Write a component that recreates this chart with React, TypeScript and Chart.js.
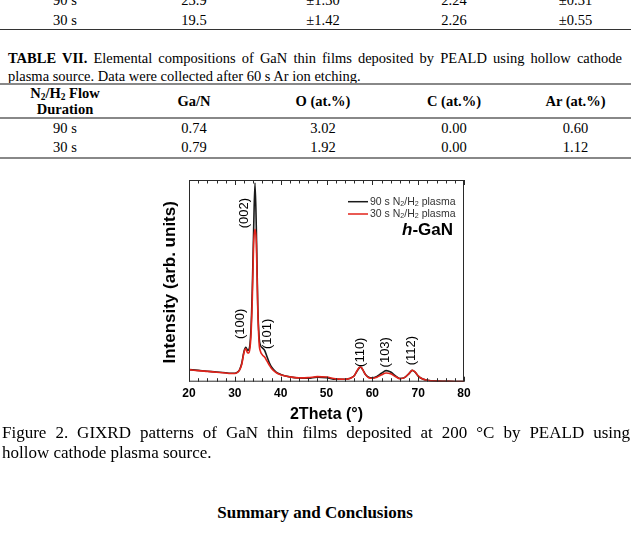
import React, { useEffect, useRef } from "react";
import { Chart, registerables } from "chart.js";
Chart.register(...registerables);

// ---------- data ----------
const table6Rows = [
  ["90 s", "23.9", "±1.30", "2.24", "±0.31"],
  ["30 s", "19.5", "±1.42", "2.26", "±0.55"],
];
const table7Headers = ["Ga/N", "O (at.%)", "C (at.%)", "Ar (at.%)"];
const table7Rows = [
  ["90 s", "0.74", "3.02", "0.00", "0.60"],
  ["30 s", "0.79", "1.92", "0.00", "1.12"],
];

const twoTheta = [20, 22, 24, 26, 28, 29, 30, 30.5, 31, 31.5, 32, 32.4, 32.8, 33.1, 33.5, 33.8, 34.1, 34.4, 34.7, 35.0, 35.3, 35.6, 36.0, 36.5, 37.0, 37.5, 38, 39, 40, 42, 44, 46, 48, 50, 52, 54, 55, 56, 56.6, 57.2, 57.5, 57.9, 58.5, 59.2, 60, 61, 62, 63, 64, 65, 66, 67, 68, 68.7, 69.3, 70, 71, 72, 74, 76, 78, 80];
const intensity90s = [6.0, 5.6, 5.2, 4.8, 4.4, 4.2, 4.2, 4.6, 5.8, 9, 15, 17, 15.5, 16, 25, 45, 75, 98.5, 75, 38, 22, 18, 16.8, 15.5, 12.5, 9.5, 7.3, 4.8, 3.6, 2.4, 1.8, 1.7, 2.2, 2.0, 1.2, 1.2, 1.6, 2.8, 5.0, 7.0, 7.2, 6.0, 3.6, 2.2, 1.9, 2.6, 4.2, 5.5, 4.8, 3.0, 1.6, 2.0, 4.0, 5.6, 4.8, 2.8, 1.3, 0.7, 0.3, 0.2, 0.1, 0.1];
const intensity30s = [6.0, 5.5, 5.1, 4.7, 4.3, 4.1, 4.1, 4.5, 5.6, 8.5, 14.5, 16.3, 14.2, 14.5, 22, 40, 68, 75.5, 68, 36, 19, 15, 13.3, 12.2, 10.3, 8.3, 6.6, 4.5, 3.4, 2.4, 1.9, 2.0, 2.5, 2.3, 1.4, 1.2, 1.6, 2.8, 5.2, 7.2, 7.3, 6.0, 3.5, 2.0, 1.7, 2.2, 3.4, 4.3, 3.9, 2.6, 1.5, 2.0, 4.0, 5.7, 4.9, 2.9, 1.3, 0.7, 0.3, 0.2, 0.1, 0.1];

const seriesNames = ["90 s", "30 s"];
const peakLabels = ["(100)", "(002)", "(101)", "(110)", "(103)", "(112)"];
const peakLabelX = [31.3, 32.0, 37.1, 57.45, 62.8, 68.6];
const peakLabelY = [28.7, 83.6, 23.7, 14.6, 14.6, 15.4];
const xTickValues = [20, 30, 40, 50, 60, 70, 80];

// ---------- styles ----------
const SANS = "'Liberation Sans', Arial, sans-serif";
const SERIF = "'Liberation Serif', 'Times New Roman', serif";
const colBounds = [0, 130, 258, 388, 520, 631];

function drawRich(ctx: CanvasRenderingContext2D, x: number, y: number, parts: [string, boolean][], size: number, weight = "normal") {
  let cx = x;
  for (const [t, sub] of parts) {
    const fs = sub ? size * 0.68 : size;
    ctx.font = `${weight} ${fs}px ${SANS}`;
    ctx.fillText(t, cx, sub ? y + size * 0.22 : y);
    cx += ctx.measureText(t).width;
  }
}

const overlayPlugin = {
  id: "overlay",
  afterDatasetsDraw(chart: any) {
    const { ctx, chartArea: a, scales } = chart;
    const x = scales.x;
    const y = scales.y;
    ctx.save();
    // frame
    ctx.strokeStyle = "#2a2a2a";
    ctx.lineWidth = 1;
    ctx.strokeRect(a.left + 0.5, a.top + 0.5, a.right - a.left - 1, a.bottom - a.top - 1);
    // inward ticks top & bottom
    for (let v = 20; v <= 80; v += 2) {
      const px = Math.round(x.getPixelForValue(v)) + 0.5;
      const len = v % 10 === 0 ? 5 : 3.5;
      ctx.beginPath();
      ctx.moveTo(px, a.bottom);
      ctx.lineTo(px, a.bottom - len);
      ctx.moveTo(px, a.top);
      ctx.lineTo(px, a.top + len);
      ctx.stroke();
    }
    // peak labels
    ctx.fillStyle = "#000";
    ctx.font = `13px ${SANS}`;
    ctx.textAlign = "center";
    ctx.textBaseline = "middle";
    peakLabels.forEach((lab, i) => {
      const px = x.getPixelForValue(peakLabelX[i]);
      const py = y.getPixelForValue(peakLabelY[i]);
      ctx.save();
      ctx.translate(px, py);
      ctx.rotate(-Math.PI / 2);
      ctx.fillText(lab, 0, 0);
      ctx.restore();
    });
    // legend
    const colors = chart.data.datasets.map((d: any) => d.borderColor);
    const lx = a.left + 159;
    [a.top + 21.7, a.top + 34].forEach((ly, i) => {
      ctx.strokeStyle = colors[i];
      ctx.lineWidth = 1.5;
      ctx.beginPath();
      ctx.moveTo(lx, ly);
      ctx.lineTo(lx + 20, ly);
      ctx.stroke();
      ctx.fillStyle = "#333";
      ctx.textAlign = "left";
      ctx.textBaseline = "middle";
      drawRich(ctx, lx + 22, ly, [[seriesNames[i] + " N", false], ["2", true], ["/H", false], ["2", true], [" plasma", false]], 10.5);
    });
    // h-GaN
    ctx.fillStyle = "#000";
    ctx.textBaseline = "middle";
    ctx.textAlign = "left";
    ctx.font = `bold 17px ${SANS}`;
    const rest = "-GaN";
    const wRest = ctx.measureText(rest).width;
    ctx.font = `italic bold 17px ${SANS}`;
    const wH = ctx.measureText("h").width;
    const endX = a.right - 11;
    const gy = a.top + 50;
    ctx.fillText("h", endX - wRest - wH, gy);
    ctx.font = `bold 17px ${SANS}`;
    ctx.fillText(rest, endX - wRest, gy);
    // axis titles
    ctx.textAlign = "center";
    ctx.font = `bold 17px ${SANS}`;
    ctx.save();
    ctx.translate(a.left - 18.3, (a.top + a.bottom) / 2 + 1.5);
    ctx.rotate(-Math.PI / 2);
    ctx.fillText("Intensity (arb. units)", 0, 0);
    ctx.restore();
    ctx.font = `bold 16px ${SANS}`;
    ctx.fillText("2Theta (°)", (a.left + a.right) / 2, a.bottom + 33);
    ctx.restore();
  },
};

function XrdChart() {
  const ref = useRef<HTMLCanvasElement>(null);
  useEffect(() => {
    if (!ref.current) return;
    const chart = new Chart(ref.current, {
      type: "line",
      data: {
        datasets: [
          {
            label: seriesNames[0],
            data: twoTheta.map((t, i) => ({ x: t, y: intensity90s[i] })),
            borderColor: "#1a1a1a",
            borderWidth: 1.6,
            pointRadius: 0,
            cubicInterpolationMode: "monotone",
            order: 2,
          },
          {
            label: seriesNames[1],
            data: twoTheta.map((t, i) => ({ x: t, y: intensity30s[i] })),
            borderColor: "#e2231a",
            borderWidth: 1.6,
            pointRadius: 0,
            cubicInterpolationMode: "monotone",
            order: 1,
          },
        ],
      },
      options: {
        responsive: false,
        animation: false,
        devicePixelRatio: 1,
        layout: { padding: { left: 39, right: 16, top: 10, bottom: 0 } },
        plugins: { legend: { display: false }, tooltip: { enabled: false } },
        scales: {
          x: {
            type: "linear",
            min: 20,
            max: 80,
            afterFit: (s: any) => { s.height = 43.3; },
            afterBuildTicks: (s: any) => { s.ticks = xTickValues.map((v) => ({ value: v })); },
            grid: { display: false, drawTicks: false },
            border: { display: false },
            ticks: { padding: 4.5, color: "#000", font: { family: SANS, size: 12, weight: "bold" }, maxRotation: 0 },
          },
          y: {
            type: "linear",
            min: 0,
            max: 100,
            display: false,
          },
        },
      },
      plugins: [overlayPlugin],
    } as any);
    return () => chart.destroy();
  }, []);
  return (
    <canvas ref={ref} width={330} height={255} style={{ position: "absolute", left: 150, top: 170, width: 330, height: 255 }} />
  );
}

function Row({ cells, cy, bold = false }: { cells: React.ReactNode[]; cy: number; bold?: boolean }) {
  const lh = 18;
  return (
    <>
      {cells.map((c, i) => (
        <div
          key={i}
          style={{
            position: "absolute",
            left: colBounds[i],
            width: colBounds[i + 1] - colBounds[i],
            top: cy - lh / 2,
            height: lh,
            lineHeight: lh + "px",
            textAlign: "center",
            fontWeight: bold ? "bold" : "normal",
            whiteSpace: "nowrap",
          }}
        >
          {c}
        </div>
      ))}
    </>
  );
}

function HLine({ y, h, color }: { y: number; h: number; color: string }) {
  return <div style={{ position: "absolute", left: 0, width: 631, top: y, height: h, background: color }} />;
}

export default function App() {
  return (
    <div
      style={{
        position: "absolute",
        left: 0,
        top: 0,
        width: 638,
        height: 543,
        overflow: "hidden",
        background: "#fff",
        color: "#000",
        fontFamily: SERIF,
        fontSize: 14.5,
      }}
    >
      {/* Table VI tail */}
      <Row cells={table6Rows[0]} cy={-0.5} />
      <Row cells={table6Rows[1]} cy={19.5} />
      <HLine y={29} h={1} color="#333" />

      {/* Table VII caption */}
      <div style={{ position: "absolute", left: 8, width: 614, top: 58.3 - 9, lineHeight: "18px", textAlign: "justify", textAlignLast: "justify", whiteSpace: "nowrap" as any }}>
        <b>TABLE VII.</b> Elemental compositions of GaN thin films deposited by PEALD using hollow cathode
      </div>
      <div style={{ position: "absolute", left: 8, width: 614, top: 76 - 9, lineHeight: "18px", whiteSpace: "nowrap" }}>
        plasma source. Data were collected after 60 s Ar ion etching.
      </div>
      <HLine y={82.5} h={2} color="#888" />

      {/* Table VII header */}
      <div style={{ position: "absolute", left: colBounds[0], width: colBounds[1] - colBounds[0], top: 93.3 - 8, lineHeight: "16px", textAlign: "center", fontWeight: "bold" }}>
        <div>
          N<sub style={{ fontSize: "0.65em", verticalAlign: "-0.25em", lineHeight: 0 }}>2</sub>/H
          <sub style={{ fontSize: "0.65em", verticalAlign: "-0.25em", lineHeight: 0 }}>2</sub> Flow
        </div>
        <div>Duration</div>
      </div>
      <Row cells={["", ...table7Headers]} cy={100.7} bold />
      <HLine y={117} h={2} color="#888" />
      <Row cells={table7Rows[0]} cy={128.3} />
      <Row cells={table7Rows[1]} cy={147.3} />
      <HLine y={156.5} h={2} color="#888" />

      <XrdChart />

      {/* Figure caption */}
      <div style={{ position: "absolute", left: 2, width: 628, top: 433.3 - 10, fontSize: 17, lineHeight: "20px", textAlign: "justify", textAlignLast: "justify", whiteSpace: "nowrap" as any }}>
        Figure 2. GIXRD patterns of GaN thin films deposited at 200 °C by PEALD using
      </div>
      <div style={{ position: "absolute", left: 2, width: 628, top: 453.3 - 10, fontSize: 17, lineHeight: "20px", whiteSpace: "nowrap" }}>
        hollow cathode plasma source.
      </div>

      <div style={{ position: "absolute", left: 0, width: 630, top: 513.3 - 10, fontSize: 17, lineHeight: "20px", textAlign: "center", fontWeight: "bold" }}>
        Summary and Conclusions
      </div>
    </div>
  );
}
